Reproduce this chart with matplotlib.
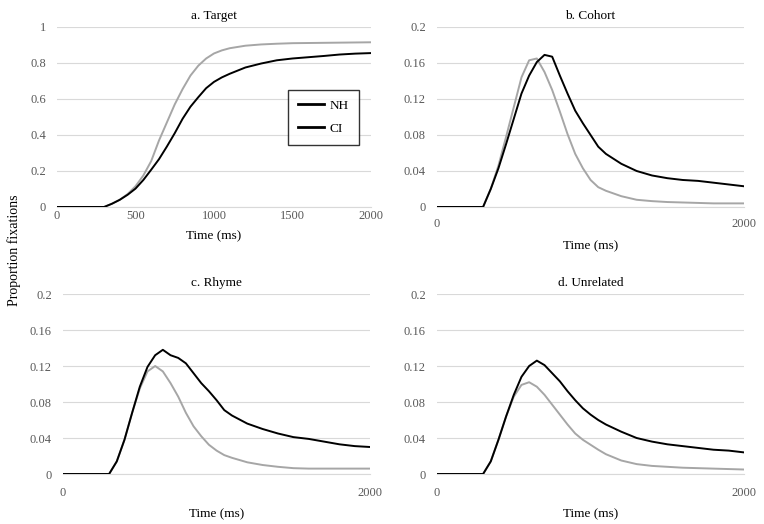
import numpy as np
import matplotlib
matplotlib.use("Agg")
import matplotlib.pyplot as plt
from matplotlib.lines import Line2D

# time points (ms)
time_ms = [0, 300, 350, 400, 450, 500, 550, 600, 650, 700, 750, 800, 850, 900,
           950, 1000, 1050, 1100, 1200, 1300, 1400, 1500, 1600, 1700, 1800, 1900, 2000]

# a. Target
target_black = [0, 0, 0.018, 0.04, 0.068, 0.102, 0.15, 0.207, 0.266, 0.336, 0.41, 0.49, 0.557,
                0.61, 0.66, 0.695, 0.72, 0.74, 0.775, 0.797, 0.815, 0.825, 0.832, 0.839, 0.847,
                0.852, 0.855]
target_gray = [0, 0, 0.018, 0.04, 0.072, 0.115, 0.175, 0.255, 0.37, 0.47, 0.57, 0.655, 0.73,
               0.785, 0.825, 0.853, 0.87, 0.882, 0.896, 0.903, 0.907, 0.91, 0.911, 0.912, 0.913,
               0.914, 0.915]

# b. Cohort
cohort_black = [0, 0, 0.020, 0.043, 0.070, 0.098, 0.126, 0.146, 0.161, 0.169, 0.167, 0.146, 0.126,
                0.107, 0.093, 0.080, 0.067, 0.059, 0.048, 0.040, 0.035, 0.032, 0.030, 0.029,
                0.027, 0.025, 0.023]
cohort_gray = [0, 0, 0.020, 0.046, 0.078, 0.111, 0.144, 0.163, 0.165, 0.150, 0.130, 0.106, 0.081,
               0.059, 0.043, 0.030, 0.022, 0.018, 0.012, 0.008, 0.0065, 0.0055, 0.005, 0.0045,
               0.004, 0.004, 0.004]

# c. Rhyme
rhyme_black = [0, 0, 0.014, 0.038, 0.068, 0.097, 0.119, 0.132, 0.138, 0.132, 0.129, 0.123, 0.112,
               0.101, 0.092, 0.082, 0.071, 0.065, 0.056, 0.050, 0.045, 0.041, 0.039, 0.036,
               0.033, 0.031, 0.030]
rhyme_gray = [0, 0, 0.014, 0.038, 0.068, 0.095, 0.114, 0.120, 0.114, 0.101, 0.086, 0.068, 0.053,
              0.042, 0.0325, 0.026, 0.021, 0.018, 0.013, 0.010, 0.008, 0.0065, 0.006, 0.006,
              0.006, 0.006, 0.006]

# d. Unrelated
unrel_black = [0, 0, 0.014, 0.038, 0.064, 0.088, 0.108, 0.120, 0.126, 0.121, 0.112, 0.103, 0.092,
               0.082, 0.073, 0.066, 0.060, 0.055, 0.047, 0.040, 0.036, 0.033, 0.031, 0.029,
               0.027, 0.026, 0.024]
unrel_gray = [0, 0, 0.014, 0.038, 0.064, 0.086, 0.099, 0.102, 0.097, 0.088, 0.077, 0.066, 0.055,
              0.045, 0.038, 0.0325, 0.027, 0.022, 0.015, 0.011, 0.009, 0.008, 0.007, 0.0065,
              0.006, 0.0055, 0.005]

titles = ["a. Target", "b. Cohort", "c. Rhyme", "d. Unrelated"]
legend_labels = ["NH", "CI"]

plt.rcParams["font.family"] = ["Liberation Serif", "DejaVu Serif"]

GRAY = "#a6a6a6"
GRID = "#d9d9d9"
TICK = "#595959"

fig = plt.figure(figsize=(7.64, 5.24), dpi=100)
boxes = [[0.0746, 0.605, 0.411, 0.3435],
         [0.572, 0.605, 0.402, 0.3435],
         [0.0825, 0.0954, 0.402, 0.3435],
         [0.572, 0.0954, 0.402, 0.3435]]
series = [(target_black, target_gray), (cohort_black, cohort_gray),
          (rhyme_black, rhyme_gray), (unrel_black, unrel_gray)]

for i, (box, (blk, gry), title) in enumerate(zip(boxes, series, titles)):
    ax = fig.add_axes(box)
    ax.plot(time_ms, gry, color=GRAY, lw=1.4, zorder=3)
    ax.plot(time_ms, blk, color="black", lw=1.4, zorder=4)
    ax.set_xlim(0, 2000)
    if i == 0:
        ax.set_ylim(0, 1)
        ax.set_yticks(np.arange(0, 1.01, 0.2))
        ax.set_yticklabels(["0", "0.2", "0.4", "0.6", "0.8", "1"])
        ax.set_xticks([0, 500, 1000, 1500, 2000])
        ax.tick_params(axis="x", pad=2)
    else:
        ax.set_ylim(0, 0.2)
        ax.set_yticks(np.arange(0, 0.201, 0.04))
        ax.set_yticklabels(["0", "0.04", "0.08", "0.12", "0.16", "0.2"])
        ax.set_xticks([0, 2000])
        ax.tick_params(axis="x", pad=8 if i == 1 else 9)
    ax.tick_params(axis="both", length=0, labelsize=9, labelcolor=TICK)
    ax.tick_params(axis="y", pad=8)
    ax.grid(axis="y", color=GRID, lw=0.8)
    ax.set_axisbelow(True)
    for s in ["left", "right", "top"]:
        ax.spines[s].set_visible(False)
    ax.spines["bottom"].set_color(GRID)
    ax.spines["bottom"].set_linewidth(0.8)
    ax.set_title(title, fontsize=9.5, pad=6)
    ax.set_xlabel("Time (ms)", fontsize=9.5, labelpad=6 if i == 0 else 7)
    if i == 0:
        handles = [Line2D([], [], color="black", lw=2) for _ in legend_labels]
        leg = ax.legend(handles, legend_labels, loc="upper left",
                        bbox_to_anchor=(0.736, 0.65), borderaxespad=0,
                        fontsize=9.5, frameon=True, fancybox=False,
                        edgecolor="black", handlelength=2.0, borderpad=0.75,
                        labelspacing=0.8, handletextpad=0.4)
        leg.get_frame().set_linewidth(1.0)

fig.text(14 / 764, 1 - 250 / 524, "Proportion fixations", rotation=90,
         ha="center", va="center", fontsize=10)

fig.savefig("out.png", dpi=100)
